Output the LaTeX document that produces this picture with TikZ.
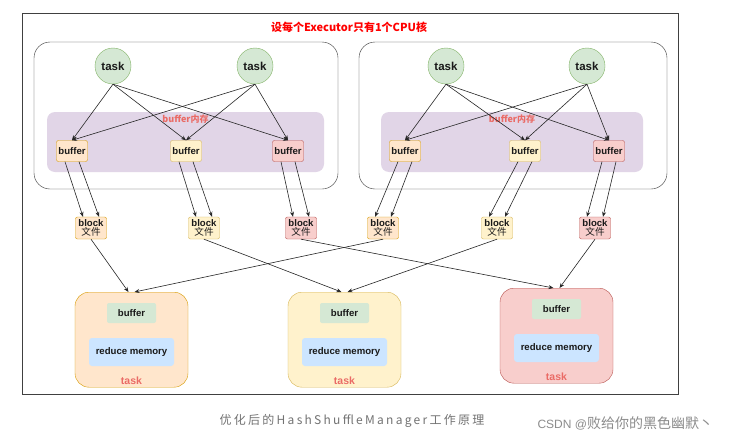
\documentclass[tikz,border=0pt]{standalone}
\usepackage{fontspec}
\setmainfont{Liberation Sans}
\newfontfamily\cjk{Noto Sans CJK SC}
\usetikzlibrary{arrows.meta,calc}

\definecolor{bgorange}{HTML}{FFE6CC}
\definecolor{fgorange}{HTML}{D79B00}
\definecolor{bgyellow}{HTML}{FFF2CC}
\definecolor{fgyellow}{HTML}{D6B656}
\definecolor{bgred}{HTML}{F8CECC}
\definecolor{fgred}{HTML}{B85450}
\definecolor{taskfill}{HTML}{D5E8D4}
\definecolor{taskline}{HTML}{82B366}
\definecolor{memfill}{HTML}{E1D5E7}
\definecolor{reducefill}{HTML}{CCE5FF}
\definecolor{labelred}{HTML}{EA6B66}

\begin{document}
\begin{tikzpicture}[x=1pt, y=-1pt, >={Stealth[length=5pt,width=4pt]},
    every node/.style={font=\bfseries\fontsize{9.6}{10.5}\selectfont, text=black!90},
    execbox/.style={draw=black!80, rounded corners=16pt, minimum height=147pt},
    membox/.style={fill=memfill, rounded corners=8pt, minimum height=60pt},
    taskcircle/.style={circle, fill=taskfill, draw=taskline, minimum size=36pt, inner sep=0pt, font=\bfseries\fontsize{11.5}{12}\selectfont},
    filebox/.style={rounded corners=2pt, minimum width=31pt, minimum height=21pt, inner sep=0pt},
    reducebox/.style={rounded corners=14pt, minimum width=113pt, minimum height=95pt},
    innerbuf/.style={fill=taskfill, rounded corners=2pt, minimum width=49pt, minimum height=20pt},
    innermem/.style={fill=reducefill, rounded corners=3pt, minimum width=85pt, minimum height=28pt},
    flow/.style={->, draw=black!85, line width=0.6pt}]
    \useasboundingbox (0,0) rectangle (731,442);
    \fill[white] (0,0) rectangle (731,442);
    % Frame
    \node[draw=black!75, line width=0.8pt, minimum width=656pt, minimum height=381pt, inner sep=0pt, anchor=north west] (Frame) at (22,13) {};
    \node[text=red, font=\cjk\bfseries\fontsize{11}{12}\selectfont] (Title) at (349,27) {设每个Executor只有1个CPU核};
    % Executors
    \foreach \cx/\w/\mx/\mw/\e in {186/304/185.5/277/1, 513/308/512/262/2} {
        \node[execbox, minimum width=\w pt] (Exec-\e) at (\cx,115.5) {};
        \node[membox, minimum width=\mw pt] (Mem-\e) at (\mx,142) {};
        \node[text=labelred, font=\cjk\bfseries\fontsize{9}{10}\selectfont] (MemLabel-\e) at (\mx,119) {buffer内存};
    }
    % Map tasks
    \foreach \x/\i in {113/1, 255/2, 446/3, 587/4} {
        \node[taskcircle] (Task-\i) at (\x,66) {task};
    }
    % Buffers and block files
    \foreach \x/\bx/\i/\col in {72/91/1/orange, 186/204/2/yellow, 288/301/3/red, 405/383/4/orange, 525/497/5/yellow, 609/595/6/red} {
        \node[filebox, fill=bg\col, draw=fg\col] (Buffer-\i) at (\x,151) {buffer};
        \node[filebox, fill=bg\col, draw=fg\col, align=center, minimum height=22pt] (Block-\i) at (\bx,228) {block\\[-1pt]{\cjk\mdseries 文件}};
    }
    % Reduce tasks
    \foreach \x/\y/\i/\col in {131.5/292/1/orange, 344.5/292/2/yellow, 556.5/288/3/red} {
        \node[reducebox, fill=bg\col, draw=fg\col, anchor=north] (Reduce-\i) at (\x,\y) {};
        \node[innerbuf] (RBuf-\i) at ($(Reduce-\i.north)+(0,21)$) {buffer};
        \node[innermem] (RMem-\i) at ($(Reduce-\i.north)+(0,60)$) {reduce memory};
        \node[text=labelred, font=\bfseries\fontsize{10.5}{12}\selectfont] (RLabel-\i) at ($(Reduce-\i.north)+(0,89)$) {task};
    }
    % Arrows
    \foreach \t in {1,2,3,4} {
        \foreach \b in {1,2,3} {
            \pgfmathtruncatemacro{\k}{\b + 3*int((\t-1)/2)}
            \draw[flow] (Task-\t.south) -- (Buffer-\k.north);
        }
    }
    \foreach \i in {1,...,6} {
        \draw[flow] ($(Buffer-\i.south)+(-7,0)$) -- ($(Block-\i.north)+(-8,0)$);
        \draw[flow] ($(Buffer-\i.south)+(7,0)$) -- ($(Block-\i.north)+(8,0)$);
    }
    \foreach \b/\r/\s in {1/1/-3, 4/1/3, 2/2/-3, 5/2/3, 3/3/-3, 6/3/3} {
        \draw[flow] (Block-\b.south) -- ($(Reduce-\r.north)+(\s,0)$);
    }
    % Caption
    \node[text=black!55, font=\cjk\fontsize{12}{13}\selectfont\addfontfeature{LetterSpace=19}] (Caption) at (352,421) {优化后的HashShuffleManager工作原理};
    \node[text=black!45, font=\fontsize{12}{14}\selectfont\mdseries, anchor=west] (Mark) at (534,423) {CSDN @{\cjk\fontsize{14}{14}\selectfont 败给你的黑色幽默丶}};
\end{tikzpicture}
\end{document}
